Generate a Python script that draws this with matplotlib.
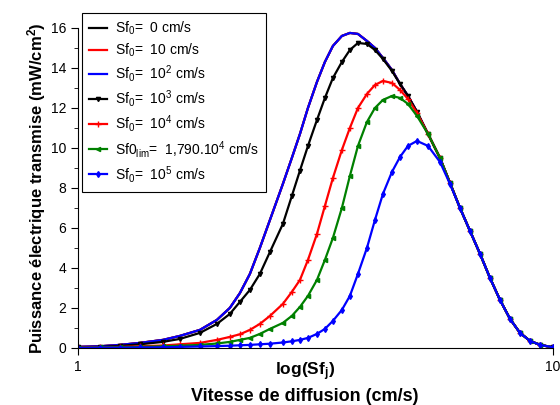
import matplotlib
matplotlib.use("Agg")
import matplotlib.pyplot as plt

plt.rcParams['font.family'] = ['Liberation Sans', 'DejaVu Sans']
plt.rcParams['mathtext.default'] = 'regular'

# vitesse (echelle log, 1 -> 10)
sf = [1.000, 1.112, 1.226, 1.351, 1.510, 1.640, 1.807, 1.962, 2.089, 2.193,
      2.302, 2.416, 2.537, 2.701, 2.821, 2.934, 3.050, 3.186, 3.311, 3.442,
      3.595, 3.737, 3.886, 4.059, 4.220, 4.386, 4.582, 4.765, 4.952, 5.173,
      5.457, 5.782, 6.070, 6.371, 6.688, 7.022, 7.368, 7.734, 8.120, 8.521,
      8.946, 9.389, 10.00]

# partie commune (decroissance) a partir de sf = 5.457
p_queue = [10.7, 9.5, 8.25, 7.0, 5.85, 4.7, 3.5, 2.4, 1.45, 0.75, 0.35, 0.15, 0.03]

# puissance (mW/cm2)
p_faible = [0.05, 0.08, 0.15, 0.25, 0.4, 0.6, 0.9, 1.4, 2.0, 2.74,
            3.7, 5.0, 6.4, 8.2, 9.5, 10.7, 12.0, 13.3, 14.3, 15.1,
            15.6, 15.75, 15.7, 15.35, 15.0, 14.5, 13.9, 13.2, 12.6, 11.8] + p_queue
p_1e3 = [0.03, 0.05, 0.1, 0.18, 0.3, 0.45, 0.75, 1.2, 1.7, 2.3,
         2.9, 3.7, 4.8, 6.2, 7.6, 8.87, 10.1, 11.4, 12.5, 13.5,
         14.3, 14.9, 15.25, 15.2, 14.9, 14.45, 13.85, 13.2, 12.6, 11.8] + p_queue
p_1e4 = [0.02, 0.03, 0.05, 0.08, 0.12, 0.18, 0.25, 0.4, 0.55, 0.68,
         0.9, 1.2, 1.6, 2.2, 2.8, 3.4, 4.4, 5.7, 7.1, 8.5,
         9.9, 11.0, 12.0, 12.7, 13.15, 13.35, 13.25, 12.9, 12.45, 11.75] + p_queue
p_lim = [0.01, 0.02, 0.03, 0.05, 0.08, 0.11, 0.15, 0.22, 0.3, 0.4,
         0.5, 0.7, 0.95, 1.25, 1.6, 2.05, 2.6, 3.4, 4.4, 5.5,
         7.0, 8.6, 10.1, 11.3, 12.0, 12.4, 12.6, 12.5, 12.2, 11.6] + p_queue
p_1e5 = [0.0, 0.01, 0.01, 0.02, 0.03, 0.05, 0.07, 0.09, 0.11, 0.13,
         0.15, 0.18, 0.21, 0.27, 0.33, 0.4, 0.5, 0.7, 0.95, 1.35,
         1.9, 2.6, 3.7, 5.0, 6.4, 7.7, 8.8, 9.55, 10.1, 10.35,
         10.1, 9.3, 8.2] + p_queue[3:]

labels = ['Sf$_0$=  0 cm/s', 'Sf$_0$=  10 cm/s', 'Sf$_0$=  10$^2$ cm/s',
          'Sf$_0$=  10$^3$ cm/s', 'Sf$_0$=  10$^4$ cm/s',
          'Sf0$_{lim}$=  1,790.10$^4$ cm/s', 'Sf$_0$=  10$^5$ cm/s']

fig = plt.figure(figsize=(5.6, 4.05), dpi=100)
ax = fig.add_axes([0.139, 0.141, 0.8485, 0.790])

ax.plot(sf, p_faible, color='black', lw=1.6, label=labels[0])
ax.plot(sf, p_faible, color='red', lw=1.6, label=labels[1])
ax.plot(sf, p_faible, color='blue', lw=1.6, label=labels[2])
ax.plot(sf, p_1e3, color='black', lw=1.6, marker='v', ms=3, label=labels[3])
ax.plot(sf, p_1e4, color='red', lw=1.6, marker='+', ms=4, label=labels[4])
ax.plot(sf, p_lim, color='green', lw=1.6, marker='<', ms=3, label=labels[5])
ax.plot(sf, p_1e5, color='blue', lw=1.6, marker='d', ms=3, label=labels[6])

ax.set_xscale('log')
ax.set_xlim(1, 10)
ax.set_ylim(0, 16)
ax.set_xticks([1, 10])
ax.set_xticklabels(['1', '10'])
ax.xaxis.set_minor_locator(matplotlib.ticker.NullLocator())
ax.set_yticks(range(0, 17, 2))
ax.set_yticks(range(1, 17, 2), minor=True)
ax.tick_params(axis='both', which='major', direction='out', length=5, labelsize=10)
ax.tick_params(axis='y', which='minor', direction='out', length=3)
ax.spines['top'].set_visible(False)
ax.spines['right'].set_visible(False)

ax.set_ylabel('Puissance électrique transmise (mW/cm$^2$)', fontsize=12,
              fontweight='bold', labelpad=2)
fig.text(0.545, 0.083, 'log(Sf$_j$)', fontsize=12.5, fontweight='bold', ha='center', va='center')
fig.text(0.545, 0.022, 'Vitesse de diffusion (cm/s)', fontsize=13, fontweight='bold',
         ha='center', va='center')

leg = ax.legend(loc='upper left', bbox_to_anchor=(0.146, 0.968),
                bbox_transform=fig.transFigure, fontsize=10, fancybox=False,
                edgecolor='black', framealpha=1, handlelength=1.3, handletextpad=0.6,
                labelspacing=0.3, borderaxespad=0, borderpad=0.5)
leg.get_frame().set_linewidth(0.8)

fig.savefig('out.png', dpi=100)
